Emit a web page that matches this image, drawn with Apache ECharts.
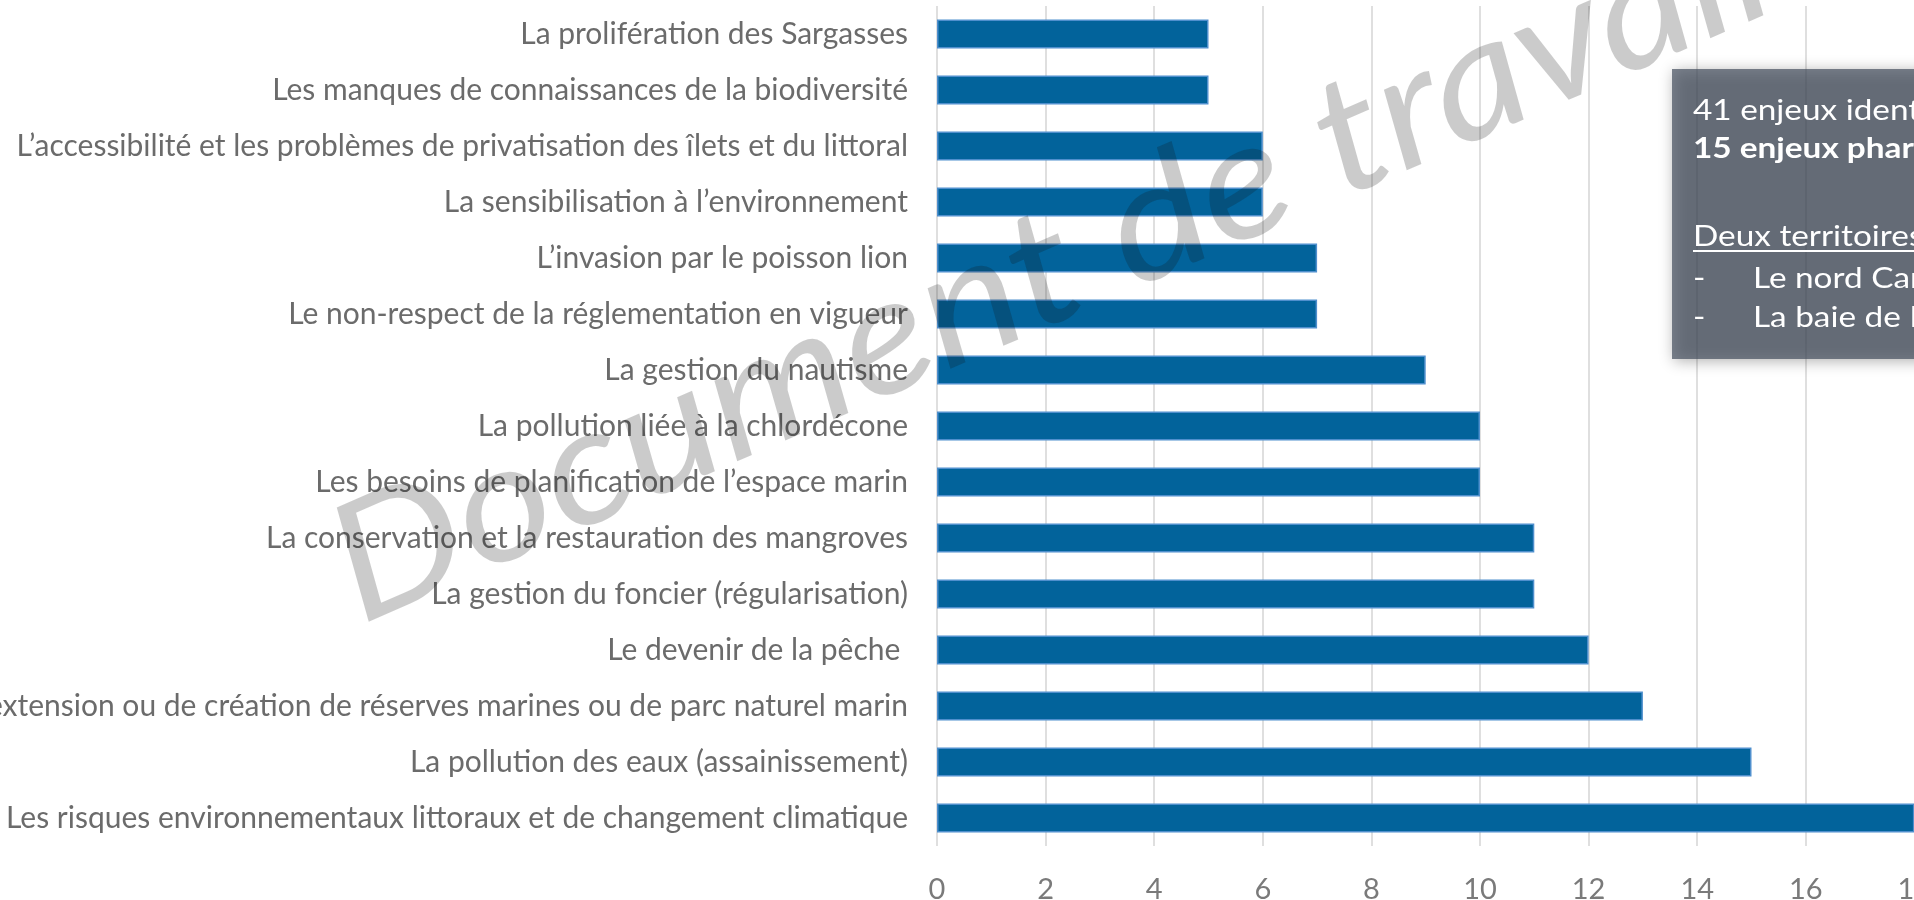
<!DOCTYPE html>
<html>
<head>
<meta charset="utf-8">
<script src="https://cdn.jsdelivr.net/npm/echarts@6/dist/echarts.min.js"></script>
<style>
  html, body { margin: 0; padding: 0; overflow: hidden; background: #fff; }
  #chart { width: 2200px; height: 900px; }
</style>
</head>
<body>
<div id="chart"></div>
<script>
// enjeux, listed top to bottom as in the chart
const enjeux = [
  'La prolifération des Sargasses',
  'Les manques de connaissances de la biodiversité',
  'L’accessibilité et les problèmes de privatisation des îlets et du littoral',
  'La sensibilisation à l’environnement',
  'L’invasion par le poisson lion',
  'Le non-respect de la réglementation en vigueur',
  'La gestion du nautisme',
  'La pollution liée à la chlordécone',
  'Les besoins de planification de l’espace marin',
  'La conservation et la restauration des mangroves',
  'La gestion du foncier (régularisation)',
  'Le devenir de la pêche ',
  'Les projets d’extension ou de création de réserves marines ou de parc naturel marin',
  'La pollution des eaux (assainissement)',
  'Les risques environnementaux littoraux et de changement climatique'
];
const citations = [5, 5, 6, 6, 7, 7, 9, 10, 10, 11, 11, 12, 13, 15, 18];

const axisMin = 0;
const axisMax = 20;
const axisStep = 2;

const boxTitle = '41 enjeux identifiés';
const boxBold = '15 enjeux phares';
const boxSub = 'Deux territoires prioritaires :';
const boxItems = ['Le nord Caraïbe', 'La baie de Fort-de-France'];

const watermark = 'Document de travail';

const font = 'Lato, "Open Sans", sans-serif';
const white = '#ffffff';

const chart = echarts.init(document.getElementById('chart'), null, { renderer: 'canvas' });

const boxX = 1672, boxY = 69;
const textX = 1693;

function boxText(txt, x, y, bold) {
  return {
    type: 'text', z: 101, x: x, y: y, scaleX: 1.19,
    style: {
      text: txt,
      fill: white,
      font: (bold ? 'bold ' : '') + '28px ' + font,
      verticalAlign: 'middle'
    }
  };
}

const graphics = [
  {
    type: 'rect',
    z: 100,
    shape: { x: boxX, y: boxY, width: 500, height: 290 },
    style: {
      fill: 'rgba(68,78,94,0.7)',
      shadowBlur: 14,
      shadowColor: 'rgba(0,0,0,0.45)',
      shadowOffsetX: 2,
      shadowOffsetY: 2
    }
  },
  boxText(boxTitle, textX, 111, false),
  boxText(boxBold, textX, 149, true),
  boxText(boxSub, textX, 237, false),
  {
    type: 'line', z: 101,
    shape: { x1: textX, y1: 251, x2: 2100, y2: 251 },
    style: { stroke: white, lineWidth: 2 }
  }
];
boxItems.forEach((item, i) => {
  graphics.push(boxText('-', textX, 279 + i * 39, false));
  graphics.push(boxText(item, 1753, 279 + i * 39, false));
});
graphics.push({
  type: 'text',
  z: 90,
  x: 372,
  y: 652,
  rotation: 23.5 * Math.PI / 180,
  scaleX: 1.12,
  style: {
    text: watermark,
    fill: 'rgba(20,20,20,0.22)',
    font: 'italic 164px ' + font,
    verticalAlign: 'bottom',
    align: 'left'
  }
});

const option = {
  animation: false,
  backgroundColor: '#ffffff',
  grid: {
    left: 937,
    top: 6,
    width: 1086,
    height: 840,
    containLabel: false,
    outerBoundsMode: 'none'
  },
  xAxis: {
    type: 'value',
    min: axisMin,
    max: axisMax,
    interval: axisStep,
    axisLine: { show: false },
    axisTick: { show: false },
    axisLabel: {
      color: '#7a7a7a',
      fontFamily: font,
      fontSize: 29,
      margin: 29
    },
    splitLine: { show: true, lineStyle: { color: '#d4d4d4', width: 1.5 } }
  },
  yAxis: {
    type: 'category',
    inverse: true,
    data: enjeux,
    axisLine: { show: false },
    axisTick: { show: false },
    axisLabel: {
      color: '#6b6b6b',
      fontFamily: font,
      fontSize: 30,
      margin: 29
    }
  },
  series: [
    {
      type: 'bar',
      data: citations,
      barWidth: 29,
      itemStyle: {
        color: '#02639b',
        borderColor: '#4f8fcd',
        borderWidth: 1.5
      }
    }
  ],
  graphic: graphics
};

chart.setOption(option);
</script>
</body>
</html>
